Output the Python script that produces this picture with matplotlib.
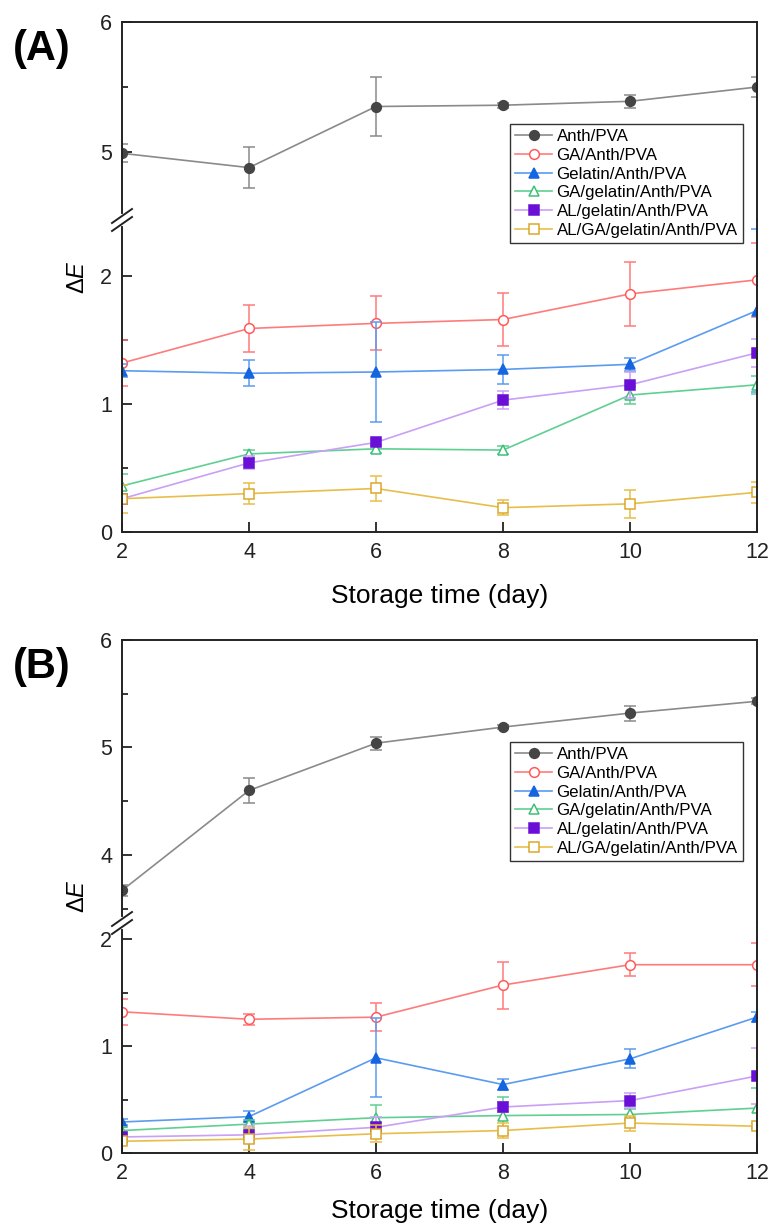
#!/usr/bin/env python3
import matplotlib
matplotlib.use("Agg")
import matplotlib.pyplot as plt
from matplotlib.lines import Line2D

plt.rcParams['font.family'] = ['Liberation Sans', 'DejaVu Sans']
plt.rcParams['mathtext.fontset'] = 'custom'
plt.rcParams['mathtext.rm'] = 'Liberation Sans'
plt.rcParams['mathtext.it'] = 'Liberation Sans:italic'

days = [2, 4, 6, 8, 10, 12]
labels = ["Anth/PVA", "GA/Anth/PVA", "Gelatin/Anth/PVA",
          "GA/gelatin/Anth/PVA", "AL/gelatin/Anth/PVA", "AL/GA/gelatin/Anth/PVA"]

# panel A
anth_a = [4.99, 4.88, 5.35, 5.36, 5.39, 5.50]
anth_a_err = [0.07, 0.16, 0.23, 0.02, 0.05, 0.08]
ga_a = [1.32, 1.59, 1.63, 1.66, 1.86, 1.97]
ga_a_err = [0.18, 0.18, 0.21, 0.21, 0.25, 0.29]
gel_a = [1.26, 1.24, 1.25, 1.27, 1.31, 1.73]
gel_a_err = [0.05, 0.10, 0.39, 0.11, 0.05, 0.64]
ga_gel_a = [0.36, 0.61, 0.65, 0.64, 1.07, 1.15]
ga_gel_a_err = [0.09, 0.03, 0.03, 0.03, 0.07, 0.07]
al_gel_a = [0.26, 0.54, 0.70, 1.03, 1.15, 1.40]
al_gel_a_err = [0.04, 0.05, 0.03, 0.07, 0.10, 0.11]
al_ga_gel_a = [0.26, 0.30, 0.34, 0.19, 0.22, 0.31]
al_ga_gel_a_err = [0.11, 0.08, 0.10, 0.06, 0.11, 0.08]

# panel B
anth_b = [3.67, 4.60, 5.04, 5.19, 5.32, 5.43]
anth_b_err = [0.05, 0.12, 0.06, 0.02, 0.07, 0.03]
ga_b = [1.32, 1.25, 1.27, 1.57, 1.76, 1.76]
ga_b_err = [0.12, 0.05, 0.13, 0.22, 0.11, 0.20]
gel_b = [0.29, 0.34, 0.89, 0.64, 0.88, 1.27]
gel_b_err = [0.03, 0.05, 0.37, 0.05, 0.09, 0.05]
ga_gel_b = [0.21, 0.27, 0.33, 0.35, 0.36, 0.42]
ga_gel_b_err = [0.03, 0.04, 0.12, 0.17, 0.05, 0.19]
al_gel_b = [0.15, 0.17, 0.24, 0.43, 0.49, 0.72]
al_gel_b_err = [0.05, 0.08, 0.10, 0.05, 0.07, 0.26]
al_ga_gel_b = [0.11, 0.13, 0.18, 0.21, 0.28, 0.25]
al_ga_gel_b_err = [0.03, 0.10, 0.08, 0.07, 0.07, 0.03]

# line colour, marker, marker face, marker edge
styles = [
    ("#8a8a8a", "o", "#454545", "#454545"),
    ("#ff7b7b", "o", "white", "#ff5a5a"),
    ("#5b9bf0", "^", "#1565e0", "#1565e0"),
    ("#5fcf92", "^", "white", "#3fbf78"),
    ("#c9a0f5", "s", "#6a0fd6", "#6a0fd6"),
    ("#e8bd4a", "s", "white", "#dca82a"),
]

W, H = 769, 1228
fig = plt.figure(figsize=(W / 100, H / 100), dpi=100)


def fx(px):
    return px / W


def fy(py):
    return 1 - py / H


def style_axis(ax):
    for s in ax.spines.values():
        s.set_linewidth(1.4)
        s.set_color("#222222")
    ax.tick_params(direction="in", length=7, width=1.3, labelsize=15.5, pad=7,
                   top=False, right=False, colors="#222222")
    ax.tick_params(which="minor", direction="in", length=4, width=1.1,
                   top=False, right=False)
    ax.set_xlim(2, 12)


def draw_panel(top, brk, bottom, up_lim, low_lim, up_ticks, low_ticks, series, tag, xpad):
    left, right = 122, 757
    ax_up = fig.add_axes([fx(left), fy(brk), fx(right) - fx(left), fy(top) - fy(brk)])
    ax_lo = fig.add_axes([fx(left), fy(bottom), fx(right) - fx(left), fy(brk) - fy(bottom)])
    handles = []
    for (vals, errs), lab, (lc, mk, mfc, mec) in zip(series, labels, styles):
        for ax in (ax_up, ax_lo):
            ax.errorbar(days, vals, yerr=errs, fmt="none", ecolor=lc,
                        elinewidth=1.1, capsize=4, capthick=1.1)
            ln, = ax.plot(days, vals, color=lc, lw=1.2, marker=mk, ms=7,
                          mfc=mfc, mec=mec, mew=1.1)
        handles.append(ln)
    for ax in (ax_up, ax_lo):
        style_axis(ax)
    ax_up.set_ylim(*up_lim)
    ax_lo.set_ylim(*low_lim)
    ax_up.set_yticks(up_ticks)
    minor_up = [t + 0.5 for t in up_ticks[:-1]]
    if up_ticks[0] - 0.5 > up_lim[0] + 0.1:
        minor_up.append(up_ticks[0] - 0.5)
    ax_up.set_yticks(minor_up, minor=True)
    ax_lo.set_yticks(low_ticks)
    ax_lo.set_yticks([t + 0.5 for t in low_ticks[:-1]], minor=True)
    ax_up.spines["bottom"].set_visible(False)
    ax_lo.spines["top"].set_visible(False)
    ax_up.tick_params(axis="x", which="both", bottom=False, labelbottom=False)
    ax_lo.set_xticks(days)
    ax_lo.set_xlabel("Storage time (day)", fontsize=19, labelpad=xpad)

    # axis break marks on the left spine
    yb = fy(brk)
    fig.add_artist(Line2D([fx(left), fx(left)], [yb - 4 / H, yb + 4 / H],
                          color="white", lw=3))
    for d in (-4, 4):
        fig.add_artist(Line2D([fx(left - 10), fx(left + 10)],
                              [yb + (d - 7) / H, yb + (d + 7) / H],
                              color="#222222", lw=1.4))

    fig.text(fx(78), (fy(top) + fy(bottom)) / 2, r"$\Delta\mathit{E}$",
             rotation=90, ha="center", va="center", fontsize=17)
    fig.text(fx(13), fy(top + 7), tag, fontsize=30, fontweight="bold",
             ha="left", va="top")

    fig.legend(handles, labels, loc="upper left", numpoints=1,
               bbox_to_anchor=(fx(510), fy(top + 102)), fontsize=12.2,
               frameon=True, fancybox=False, edgecolor="#333333",
               framealpha=1, labelspacing=0.22, handlelength=2.2,
               handletextpad=0.25, borderpad=0.3, borderaxespad=0)


draw_panel(22, 220, 532, (4.477, 6), (0, 2.4375), [5, 6], [0, 1, 2],
           [(anth_a, anth_a_err), (ga_a, ga_a_err), (gel_a, gel_a_err),
            (ga_gel_a, ga_gel_a_err), (al_gel_a, al_gel_a_err),
            (al_ga_gel_a, al_ga_gel_a_err)], "(A)", 15)

draw_panel(640, 923, 1153, (3.367, 6), (0, 2.15), [4, 5, 6], [0, 1, 2],
           [(anth_b, anth_b_err), (ga_b, ga_b_err), (gel_b, gel_b_err),
            (ga_gel_b, ga_gel_b_err), (al_gel_b, al_gel_b_err),
            (al_ga_gel_b, al_ga_gel_b_err)], "(B)", 11)

fig.savefig("out.png", dpi=100)
